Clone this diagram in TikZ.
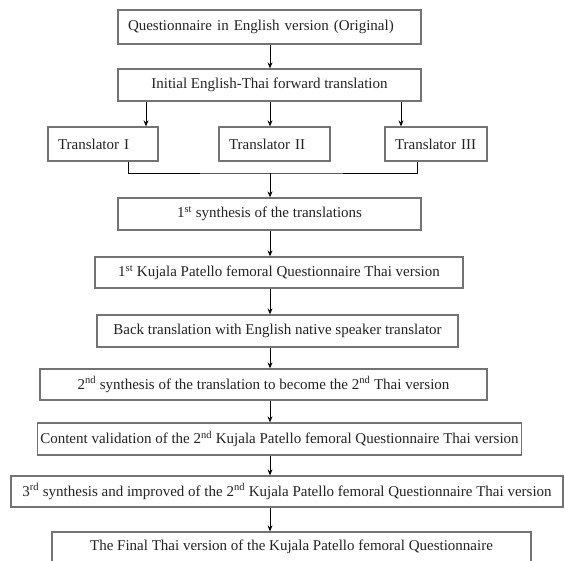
\documentclass[tikz,border=0pt]{standalone}
\usepackage{fontspec}
\setmainfont{Liberation Serif}
\usetikzlibrary{arrows.meta}
\definecolor{boxgray}{RGB}{115,115,115}
\definecolor{txtgray}{RGB}{35,35,35}
\begin{document}
\begin{tikzpicture}[x=1pt,y=-1pt,
  box/.style={draw=boxgray, line width=1.3pt, inner ysep=0pt, inner xsep=0pt, text=txtgray, font=\fontsize{15}{17}\selectfont},
  lbox/.style={box, inner xsep=10pt, align=left},
  conn/.style={draw=black, line width=0.9pt},
  arr/.style={conn, -{Stealth[length=6pt,width=5pt]}}]
\clip (0,0) rectangle (565,560);
\fill[white] (0,0) rectangle (565,560);
% axis coordinates
\coordinate (ax) at (270,0);
\coordinate (a1) at (146,0);
\coordinate (a3) at (401,0);
\coordinate (bl) at (128,0);
\coordinate (br) at (417,0);
\coordinate (j) at (270,173);
% boxes
\node[lbox, text width=283pt, minimum height=34pt] (b1) at (269.5,27) {Questionnaire in English version (Original)};
\node[box, minimum width=303pt, minimum height=32pt] (b2) at (269.5,85) {Initial English-Thai forward translation};
\node[lbox, text width=90pt, minimum height=34pt] (t1) at (103,144) {Translator I};
\node[lbox, text width=91pt, minimum height=34pt] (t2) at (274.5,144) {Translator II};
\node[lbox, text width=82pt, minimum height=34pt] (t3) at (436,144) {Translator III};
\node[box, minimum width=303pt, minimum height=32pt] (b3) at (269.5,214) {1\textsuperscript{st} synthesis of the translations};
\node[box, minimum width=368pt, minimum height=31pt] (b4) at (279,272.5) {1\textsuperscript{st} Kujala Patello femoral Questionnaire Thai version};
\node[box, minimum width=361pt, minimum height=32pt] (b5) at (277.5,331) {Back translation with English native speaker translator};
\node[box, minimum width=447pt, minimum height=31pt] (b6) at (263.5,384.5) {2\textsuperscript{nd} synthesis of the translation to become the 2\textsuperscript{nd} Thai version};
\node[box, minimum width=484pt, minimum height=32pt] (b7) at (279.5,439) {Content validation of the 2\textsuperscript{nd} Kujala Patello femoral Questionnaire Thai version};
\node[box, minimum width=552pt, minimum height=31pt] (b8) at (287,491.5) {3\textsuperscript{rd} synthesis and improved of the 2\textsuperscript{nd} Kujala Patello femoral Questionnaire Thai version};
\node[box, minimum width=479pt, minimum height=30pt] (b9) at (291.5,547) {The Final Thai version of the Kujala Patello femoral Questionnaire};
% connectors
\draw[arr] (b1.south -| ax) -- (b2.north -| ax);
\draw[arr] (b2.south -| a1) -- (t1.north -| a1);
\draw[arr] (b2.south -| ax) -- (t2.north -| ax);
\draw[arr] (b2.south -| a3) -- (t3.north -| a3);
\draw[conn] (t1.south -| bl) |- (j) -| (t3.south -| br);
\draw[arr] (j) -- (b3.north -| j);
\draw[arr] (b3.south -| ax) -- (b4.north -| ax);
\draw[arr] (b4.south -| ax) -- (b5.north -| ax);
\draw[arr] (b5.south -| ax) -- (b6.north -| ax);
\draw[arr] (b6.south -| ax) -- (b7.north -| ax);
\draw[arr] (b7.south -| ax) -- (b8.north -| ax);
\draw[arr] (b8.south -| ax) -- (b9.north -| ax);
\end{tikzpicture}
\end{document}
